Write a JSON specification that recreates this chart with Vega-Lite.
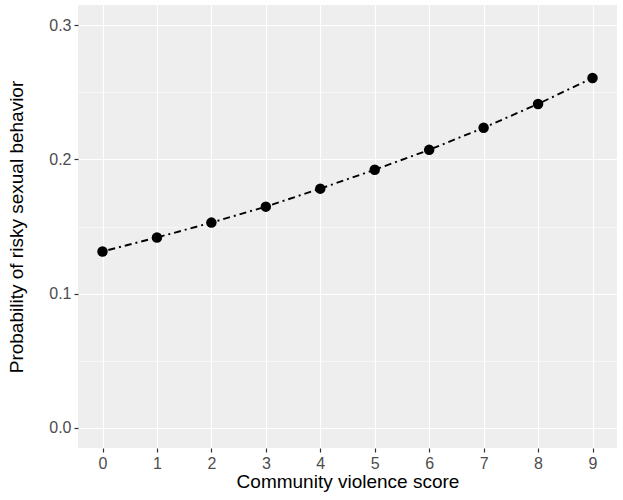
{
  "$schema": "https://vega.github.io/schema/vega-lite/v6.json",
  "width": 539,
  "height": 443,
  "autosize": {"type": "none"},
  "padding": {"left": 78, "top": 5, "right": 6, "bottom": 52},
  "background": "white",
  "config": {
    "view": {"fill": "#EEEEEE", "stroke": null},
    "font": "Liberation Sans",
    "axis": {
      "domain": false,
      "gridColor": "white",
      "tickColor": "#333333",
      "tickSize": 4,
      "labelColor": "#4D4D4D",
      "labelFontSize": 16,
      "labelFont": "Liberation Sans",
      "titleFont": "Liberation Sans",
      "titleFontSize": 19,
      "titleFontWeight": "normal",
      "titleColor": "black",
      "labelPadding": 3
    }
  },
  "data": {
    "values": [
      {"score": 0, "prob": 0.1314},
      {"score": 1, "prob": 0.1418},
      {"score": 2, "prob": 0.1529},
      {"score": 3, "prob": 0.1648},
      {"score": 4, "prob": 0.1782},
      {"score": 5, "prob": 0.1923},
      {"score": 6, "prob": 0.2071},
      {"score": 7, "prob": 0.2235},
      {"score": 8, "prob": 0.2413},
      {"score": 9, "prob": 0.2606}
    ]
  },
  "encoding": {
    "x": {
      "field": "score",
      "type": "quantitative",
      "scale": {"domain": [-0.45, 9.45], "nice": false, "zero": false},
      "axis": {
        "title": "Community violence score",
        "values": [-0.5, 0, 0.5, 1, 1.5, 2, 2.5, 3, 3.5, 4, 4.5, 5, 5.5, 6, 6.5, 7, 7.5, 8, 8.5, 9, 9.5],
        "format": "d",
        "labelExpr": "datum.value % 1 === 0 ? format(datum.value, 'd') : ''",
        "gridWidth": {"condition": {"test": "datum.value % 1 === 0", "value": 1.2}, "value": 0.6},
        "tickOpacity": {"condition": {"test": "datum.value % 1 === 0", "value": 1}, "value": 0},
        "tickWidth": 1.2,
        "titlePadding": 1
      }
    },
    "y": {
      "field": "prob",
      "type": "quantitative",
      "scale": {"domain": [-0.015, 0.315], "nice": false, "zero": false},
      "axis": {
        "title": "Probability of risky sexual behavior",
        "values": [0, 0.05, 0.1, 0.15, 0.2, 0.25, 0.3],
        "format": ".1f",
        "labelExpr": "(round(datum.value * 100) % 10 === 0) ? datum.label : ''",
        "gridWidth": {"condition": {"test": "round(datum.value * 100) % 10 === 0", "value": 1.2}, "value": 0.6},
        "tickOpacity": {"condition": {"test": "round(datum.value * 100) % 10 === 0", "value": 1}, "value": 0},
        "tickWidth": 1.2,
        "titlePadding": 22
      }
    }
  },
  "layer": [
    {
      "mark": {"type": "line", "color": "black", "strokeWidth": 1.9, "strokeDash": [2, 4, 7, 4]}
    },
    {
      "mark": {"type": "point", "filled": true, "color": "black", "opacity": 1, "size": 110}
    }
  ]
}
